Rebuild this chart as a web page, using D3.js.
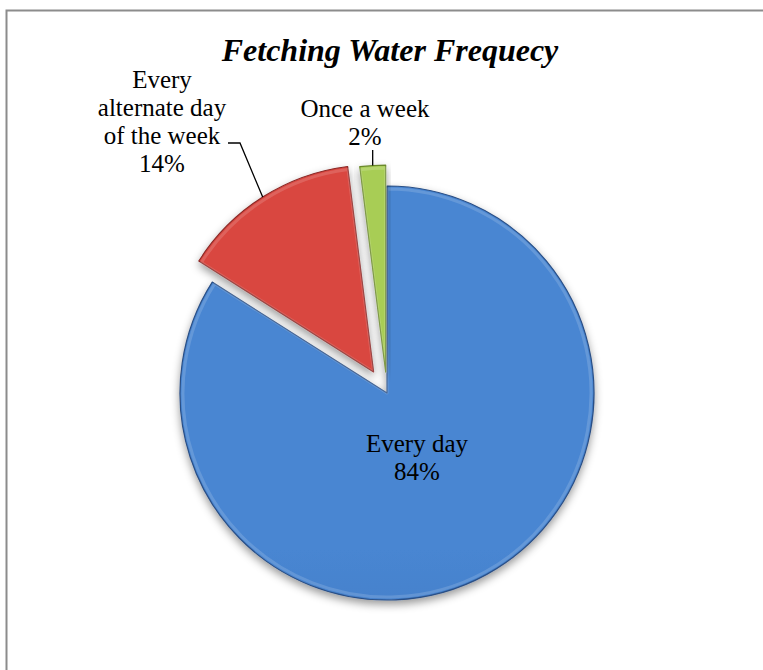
<!DOCTYPE html>
<html>
<head>
<meta charset="utf-8">
<script src="https://cdn.jsdelivr.net/npm/d3@7"></script>
<style>
  body { margin: 0; background: #fff; }
  text { font-family: "Liberation Serif", "Times New Roman", serif; fill: #000; }
</style>
</head>
<body>
<script>
// chart data
var categories = ["Every day", "Every alternate day of the week", "Once a week"];
var values = [84, 14, 2];
var labelLines = [["Every day", "84%"], ["Every", "alternate day", "of the week", "14%"], ["Once a week", "2%"]];

var w = 763, h = 670;
var cx = 387, cy = 393, r = 207;

// exploded distance per slice
var explode = [0, 25, 21];

// colours: top, bottom, rim
var colors = [
  ["#4886d2", "#3562a2", "#2a4f86"],
  ["#d9463f", "#b2332f", "#8a2825"],
  ["#a8cd55", "#86a93b", "#6a882c"]
];

var svg = d3.select("body")
  .append("svg")
  .attr("width", w)
  .attr("height", h);

var defs = svg.append("defs");

// drop shadow under the pie
var shadow = defs.append("filter")
  .attr("id", "shadow")
  .attr("x", "-20%").attr("y", "-20%")
  .attr("width", "140%").attr("height", "140%");
shadow.append("feDropShadow")
  .attr("dx", 0).attr("dy", 4)
  .attr("stdDeviation", 4)
  .attr("flood-color", "#000")
  .attr("flood-opacity", 0.4);

colors.forEach(function(c, i){
  var g = defs.append("linearGradient")
    .attr("id", "grad" + i)
    .attr("gradientUnits", "userSpaceOnUse")
    .attr("x1", 0).attr("y1", cy - r - 30)
    .attr("x2", 0).attr("y2", cy + r);
  g.append("stop").attr("offset", "0%").attr("stop-color", c[0]);
  g.append("stop").attr("offset", "100%").attr("stop-color", c[1]);
});

// chart frame (runs off the right and bottom of the picture)
svg.append("path")
  .attr("d", "M6.5," + h + "V10.5H" + w)
  .attr("fill", "none")
  .attr("stroke", "#8c8c8c")
  .attr("stroke-width", 2);

// title
svg.append("text")
  .attr("x", 390)
  .attr("y", 61)
  .attr("text-anchor", "middle")
  .style("font-size", "32px")
  .style("font-weight", "bold")
  .style("font-style", "italic")
  .text("Fetching Water Frequecy");

var pie = d3.pie().sort(null).value(function(d){ return d; });
var slices = pie(values);

var arc = d3.arc().innerRadius(0).outerRadius(r);
var innerArc = d3.arc().innerRadius(0).outerRadius(r - 3);
var edgeArc = d3.arc().innerRadius(r).outerRadius(r);

function offset(d, i){
  var a = (d.startAngle + d.endAngle) / 2;
  return [Math.sin(a) * explode[i], -Math.cos(a) * explode[i]];
}

var pieG = svg.append("g")
  .attr("transform", "translate(" + cx + "," + cy + ")");

var sliceG = pieG.selectAll(".slice")
  .data(slices)
  .enter()
  .append("g")
  .attr("class", "slice")
  .attr("transform", function(d, i){
    var o = offset(d, i);
    return "translate(" + o[0] + "," + o[1] + ")";
  });

sliceG.append("path")
  .attr("d", arc)
  .attr("fill", function(d, i){ return "url(#grad" + i + ")"; })
  .attr("stroke", function(d, i){ return colors[i][2]; })
  .attr("stroke-width", 1.2)
  .attr("stroke-linejoin", "round")
  .attr("filter", "url(#shadow)");

// soft light rim for the bevel look
sliceG.append("path")
  .attr("d", innerArc)
  .attr("fill", "none")
  .attr("stroke", "#fff")
  .attr("stroke-opacity", 0.15)
  .attr("stroke-width", 3)
  .attr("stroke-linejoin", "round");

// labels
var labelPos = [[417, 452], [162, 88], [365, 117]];
var lineH = 28;

labelLines.forEach(function(lines, i){
  var t = svg.append("text")
    .attr("class", "labels")
    .attr("text-anchor", "middle")
    .style("font-size", "25px");
  lines.forEach(function(s, j){
    t.append("tspan")
      .attr("x", labelPos[i][0])
      .attr("y", labelPos[i][1] + j * lineH)
      .text(s);
  });
});

// leader lines to the outer middle of the exploded slices
function outerMid(i){
  var d = slices[i];
  var o = offset(d, i);
  var c = edgeArc.centroid(d);
  return [cx + o[0] + c[0], cy + o[1] + c[1]];
}

var redEnd = outerMid(1);
svg.append("polyline")
  .attr("points", [[228, 143], [240, 143], redEnd].join(" "))
  .attr("fill", "none")
  .attr("stroke", "#000")
  .attr("stroke-width", 1.3);

var greenEnd = outerMid(2);
svg.append("polyline")
  .attr("points", [[greenEnd[0], 150], greenEnd].join(" "))
  .attr("fill", "none")
  .attr("stroke", "#000")
  .attr("stroke-width", 1.3);
</script>
</body>
</html>
